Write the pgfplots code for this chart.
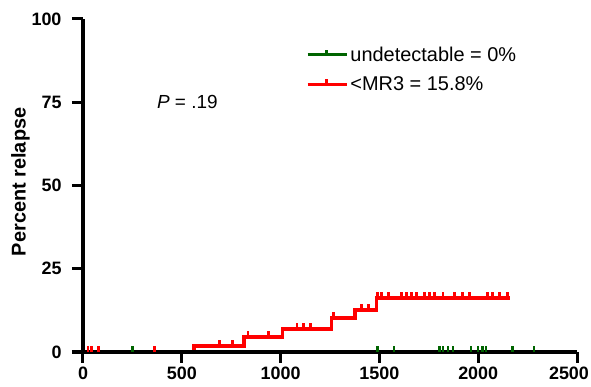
\documentclass[border=0pt]{standalone}
\usepackage{pgfplots}
\pgfplotsset{compat=1.18}
\usepackage{fontspec}
\setmainfont{Liberation Sans}
\definecolor{kmred}{RGB}{255,0,0}
\definecolor{kmgreen}{RGB}{0,100,0}
\pgfdeclareplotmark{utick}{\pgfpathmoveto{\pgfpointorigin}\pgfpathlineto{\pgfpoint{0pt}{6bp}}\pgfusepathqstroke}
\begin{document}
\begin{tikzpicture}
\begin{axis}[
  scale only axis, width=494bp, height=333bp,
  xmin=0, xmax=2500, ymin=0, ymax=100,
  axis lines=left,
  x axis line style={-, line width=3.5bp},
  y axis line style={-, line width=3.5bp},
  xtick={0,500,1000,1500,2000},
  extra x ticks={2500},
  extra x tick style={xticklabel style={xshift=-8bp}, major tick length=11bp, every major tick/.style={line width=3bp, black}},
  ytick={0,25,50,75,100},
  tick align=outside, major tick length=11bp,
  every tick/.style={line width=3bp, black},
  every major tick/.style={line width=3bp, black},
  ticklabel style={font=\bfseries\fontsize{18}{18}\selectfont},
  yticklabel style={xshift=-7bp},
  /pgf/number format/assume math mode=true,
  /pgf/number format/1000 sep={},
  ylabel={Percent relapse},
  ylabel style={font=\bfseries\fontsize{20}{20}\selectfont, at={(axis description cs:-0.1265,0.511)}, anchor=center},
  clip=false, axis on top,
  legend style={draw=none, fill=none, at={(rel axis cs:0.451,0.923)}, anchor=north west,
    font=\fontsize{20}{20}\selectfont, row sep=10bp, inner sep=0pt, cells={anchor=west}},
  legend image code/.code={\draw[#1] (0bp,0bp) -- (39bp,0bp); \draw[#1, line width=2.5bp] (19bp,0bp) -- (19bp,5bp);},
]
\addlegendimage{kmgreen, line width=3bp}
\addlegendentry{undetectable = 0\%}
\addlegendimage{kmred, line width=3.5bp}
\addlegendentry{<MR3 = 15.8\%}

\addplot[kmgreen, line width=3bp, forget plot] coordinates {(0,0) (2283,0)};
\addplot[only marks, mark=utick, kmgreen, mark options={line width=2.5bp}, forget plot] coordinates {
(250,0) (1491,0) (1575,0) (1805,0) (1822,0) (1847,0) (1872,0) (1964,0) (1998,0) (2023,0) (2040,0) (2174,0) (2283,0)};

\addplot[const plot, kmred, line width=3.8bp, forget plot] coordinates {
(0,0) (560,1.9) (815,4.6) (1010,6.8) (1258,10.1) (1375,12.7) (1485,16.3) (2160,16.3)};
\addplot[only marks, mark=utick, kmred, mark options={line width=2.8bp}, forget plot] coordinates {
(25,0) (45,0) (77,0) (362,0)
(690,1.9) (757,1.9)
(835,4.6) (937,4.6)
(1083,6.8) (1117,6.8) (1151,6.8)
(1268,10.1)
(1408,12.7) (1444,12.7)
(1491,16.3) (1511,16.3) (1545,16.3) (1612,16.3) (1637,16.3) (1662,16.3) (1687,16.3) (1729,16.3) (1754,16.3) (1780,16.3) (1822,16.3) (1880,16.3) (1922,16.3) (1956,16.3) (2048,16.3) (2073,16.3) (2107,16.3) (2149,16.3)};

\node[font=\fontsize{19}{19}\selectfont] at (axis cs:528,75) {\textit{P} = .19};
\coordinate (bl) at (rel axis cs:0,0);
\coordinate (tr) at (rel axis cs:1,1);
\end{axis}
\pgfresetboundingbox
\path ([shift={(-83bp,-35bp)}]bl) rectangle ([shift={(14bp,19bp)}]tr);
\end{tikzpicture}
\end{document}
